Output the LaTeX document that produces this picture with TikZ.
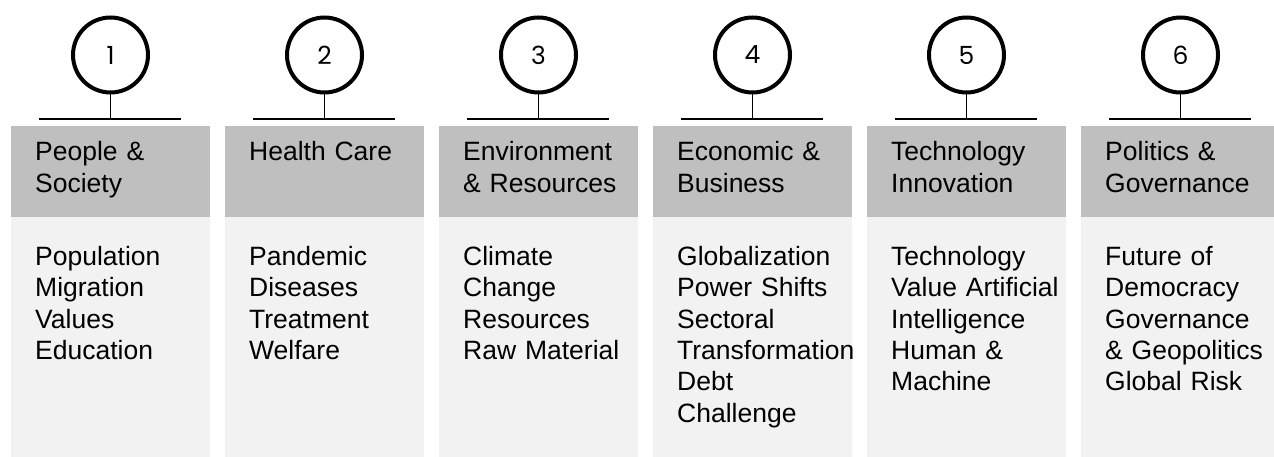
\documentclass[tikz,border=0pt]{standalone}
\usepackage{fontspec}
\setmainfont{Liberation Sans}
\newfontfamily\digitfont{Poppins}
\definecolor{headgrey}{HTML}{BFBFBF}
\definecolor{bodygrey}{HTML}{F2F2F2}
\begin{document}
\begin{tikzpicture}[
    x=1pt, y=-1pt,
    head band/.style={fill=headgrey},
    body band/.style={fill=bodygrey},
    number node/.style={circle, draw=black, line width=4pt, minimum size=75pt, inner sep=0pt, font=\digitfont\fontsize{25}{25}\selectfont},
    bar line/.style={draw=black, line width=1.6pt},
    label text/.style={anchor=base west, inner sep=0pt, text width=200pt, align=left, font=\fontsize{26.5}{31.5}\selectfont}
]
\def\colw{199}
\def\pitch{214}

\useasboundingbox (0,0) rectangle (1274,457);
\clip (0,0) rectangle (1274,457);

% Columns
\foreach \i/\head/\body in {
    1/{People \&\\Society}/{Population\\Migration\\Values\\Education},
    2/{Health Care}/{Pandemic\\Diseases\\Treatment\\Welfare},
    3/{Environment\\\& Resources}/{Climate\\Change\\Resources\\Raw Material},
    4/{Economic \&\\Business}/{Globalization\\Power Shifts\\Sectoral\\Transformation\\Debt\\Challenge},
    5/{Technology\\Innovation}/{Technology\\Value Artificial\\Intelligence\\Human \&\\Machine},
    6/{Politics \&\\Governance}/{Future of\\Democracy\\Governance\\\& Geopolitics\\Global Risk}} {
    \pgfmathsetmacro\xl{11+(\i-1)*\pitch}
    % bands
    \fill[body band] (\xl,217) rectangle ++(\colw,240);
    \fill[head band] (\xl,126) rectangle ++(\colw,91);
    % number and bar
    \node[number node] (n\i) at (\xl+99.5,55) {\i};
    \coordinate (l\i) at (\xl+28,119);
    \coordinate (r\i) at (\xl+170,119);
    \coordinate (m\i) at (\xl+99.5,119);
    \draw[bar line] (l\i) -- (r\i);
    \draw[bar line] (n\i) -- (m\i);
    % texts
    \node[label text] (h\i) at (\xl+24,161) {\head};
    \node[label text] (b\i) at (\xl+24,265) {\body};
}
\end{tikzpicture}
\end{document}
